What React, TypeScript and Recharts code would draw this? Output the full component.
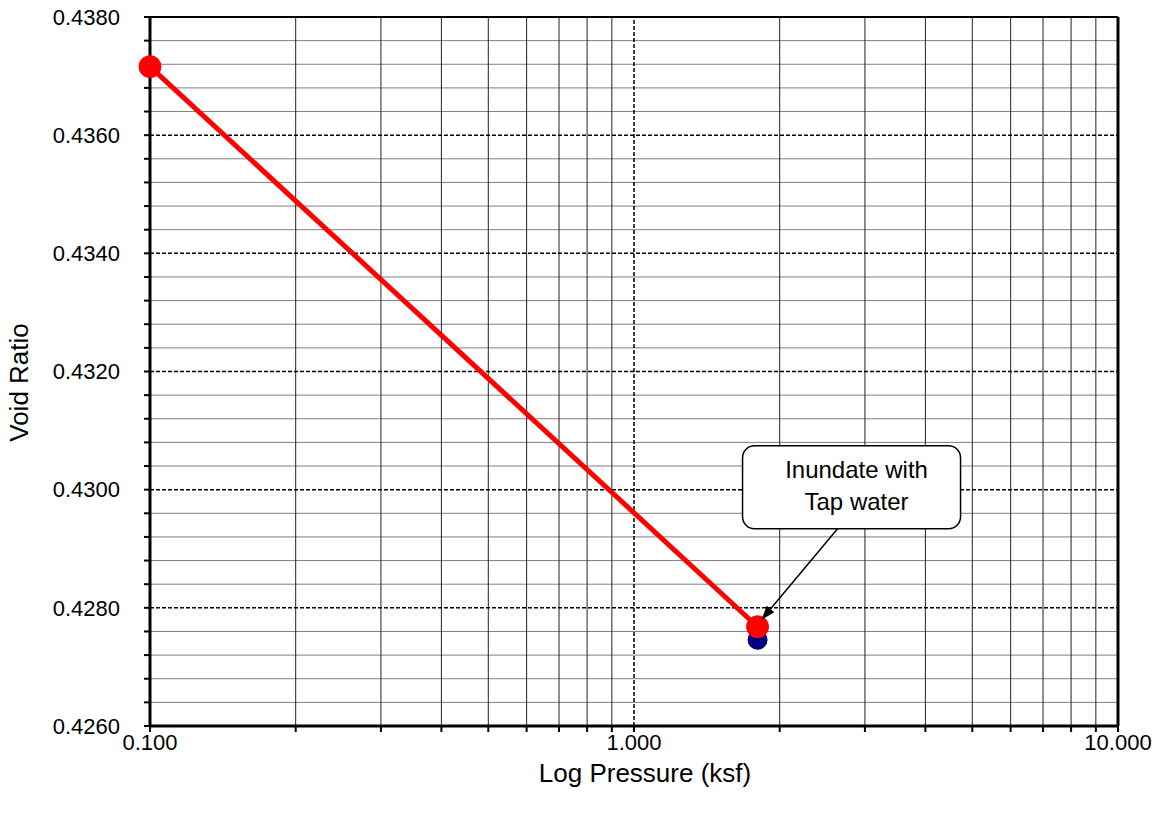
import { ComposedChart, Line, Scatter, XAxis, YAxis, ReferenceLine, ReferenceDot } from 'recharts';

// consolidation test readings
const loadingPressure = [0.1, 1.8];
const loadingVoidRatio = [0.43716, 0.42768];
const inundatedPressure = [1.8];
const inundatedVoidRatio = [0.42746];

const xTicks = [0.1, 0.2, 0.3, 0.4, 0.5, 0.6, 0.7, 0.8, 0.9, 1, 2, 3, 4, 5, 6, 7, 8, 9, 10];
const xLabelled = [0.1, 1, 10];
const yMajor = [0.426, 0.428, 0.43, 0.432, 0.434, 0.436, 0.438];
const yTicks = [
    0.426, 0.4264, 0.4268, 0.4272, 0.4276, 0.428, 0.4284, 0.4288, 0.4292, 0.4296, 0.43,
    0.4304, 0.4308, 0.4312, 0.4316, 0.432, 0.4324, 0.4328, 0.4332, 0.4336, 0.434,
    0.4344, 0.4348, 0.4352, 0.4356, 0.436, 0.4364, 0.4368, 0.4372, 0.4376, 0.438,
];

const FONT = '"Liberation Sans", Arial, sans-serif';

const loading = loadingPressure.map((x, i) => ({ x, y: loadingVoidRatio[i] }));
const inundated = inundatedPressure.map((x, i) => ({ x, y: inundatedVoidRatio[i] }));

const isMajorY = (v: number) => yMajor.some((m) => Math.abs(m - v) < 1e-7);
const isLabelledX = (v: number) => xLabelled.some((m) => Math.abs(m - v) < 1e-9);

const Callout = ({ cx, cy }: any) => {
    if (cx == null || cy == null) return null;
    const bx = cx - 15;
    const by = cy - 181;
    const sx = cx + 80;
    const sy = cy - 98;
    const tx = cx + 4;
    const ty = cy - 7;
    const ang = Math.atan2(ty - sy, tx - sx);
    const hl = 14;
    const hw = 5;
    const p1x = tx - hl * Math.cos(ang) + hw * Math.sin(ang);
    const p1y = ty - hl * Math.sin(ang) - hw * Math.cos(ang);
    const p2x = tx - hl * Math.cos(ang) - hw * Math.sin(ang);
    const p2y = ty - hl * Math.sin(ang) + hw * Math.cos(ang);
    return (
        <g>
            <line x1={sx} y1={sy} x2={tx - 10 * Math.cos(ang)} y2={ty - 10 * Math.sin(ang)} stroke="#000" strokeWidth={1.5} />
            <polygon points={`${tx},${ty} ${p1x},${p1y} ${p2x},${p2y}`} fill="#000" />
            <rect x={bx} y={by} width={218} height={83} rx={12} ry={12} fill="#fff" stroke="#000" strokeWidth={1.5} />
            <text x={bx + 114} y={by + 32} textAnchor="middle" fontFamily={FONT} fontSize={24} fill="#000">Inundate with</text>
            <text x={bx + 114} y={by + 64} textAnchor="middle" fontFamily={FONT} fontSize={24} fill="#000">Tap water</text>
        </g>
    );
};

export default function App() {
    return (
        <div style={{ position: 'absolute', left: 0, top: 0, background: '#fff' }}>
            <ComposedChart width={1156} height={816} data={loading} margin={{ top: 17, right: 38, bottom: 0, left: 0 }}>
                <XAxis
                    dataKey="x"
                    type="number"
                    scale="log"
                    domain={[0.1, 10]}
                    ticks={xTicks}
                    interval={0}
                    height={90}
                    tickSize={6}
                    axisLine={{ stroke: '#000', strokeWidth: 3 }}
                    tickLine={{ stroke: '#000', strokeWidth: 2 }}
                    tick={{ fontFamily: FONT, fontSize: 22, fill: '#000' }}
                    tickFormatter={(v: number) => (isLabelledX(v) ? v.toFixed(3) : '')}
                    label={{
                        content: ({ viewBox }: any) => (
                            <text x={viewBox.x + viewBox.width / 2 + 11} y={782} textAnchor="middle" fontFamily={FONT} fontSize={26} fill="#000">
                                Log Pressure (ksf)
                            </text>
                        ),
                    }}
                />
                <YAxis
                    type="number"
                    domain={[0.426, 0.438]}
                    ticks={yTicks}
                    interval={0}
                    width={150}
                    tickSize={6}
                    axisLine={{ stroke: '#000', strokeWidth: 3 }}
                    tickLine={{ stroke: '#000', strokeWidth: 2 }}
                    tick={{ fontFamily: FONT, fontSize: 22, fill: '#000', dx: -22 }}
                    tickFormatter={(v: number) => (isMajorY(v) ? v.toFixed(4) : '')}
                    label={{
                        content: ({ viewBox }: any) => {
                            const cy = viewBox.y + viewBox.height / 2 + 11;
                            return (
                                <text x={28} y={cy} transform={`rotate(-90, 28, ${cy})`} textAnchor="middle" fontFamily={FONT} fontSize={26} fill="#000">
                                    Void Ratio
                                </text>
                            );
                        },
                    }}
                />
                {/* minor grid */}
                {yTicks.filter((v) => !isMajorY(v)).map((v) => (
                    <ReferenceLine key={`hy${v}`} y={v} stroke="#7f7f7f" strokeWidth={1} />
                ))}
                {xTicks.filter((v) => v !== 1 && v !== 0.1 && v !== 10).map((v) => (
                    <ReferenceLine key={`vx${v}`} x={v} stroke="#222" strokeWidth={1} />
                ))}
                {/* major grid */}
                {yMajor.filter((v) => v !== 0.426 && v !== 0.438).map((v) => (
                    <ReferenceLine key={`hm${v}`} y={v} stroke="#000" strokeWidth={1.5} strokeDasharray="4 2" />
                ))}
                <ReferenceLine x={1} stroke="#000" strokeWidth={1.5} strokeDasharray="4 2" />
                <ReferenceLine x={10} stroke="#000" strokeWidth={3} />
                <ReferenceLine y={0.438} stroke="#000" strokeWidth={2} />
                <Scatter
                    data={inundated}
                    dataKey="y"
                    fill="#000080"
                    isAnimationActive={false}
                    shape={({ cx, cy }: any) => <circle cx={cx} cy={cy} r={10} fill="#000080" />}
                />
                <Line
                    dataKey="y"
                    type="linear"
                    stroke="#ff0000"
                    strokeWidth={5}
                    dot={{ r: 11, fill: '#ff0000', stroke: '#ff0000', strokeWidth: 1 }}
                    activeDot={false}
                    isAnimationActive={false}
                />
                <ReferenceDot x={loadingPressure[1]} y={loadingVoidRatio[1]} r={0} shape={(p: any) => <Callout {...p} />} />
            </ComposedChart>
        </div>
    );
}
